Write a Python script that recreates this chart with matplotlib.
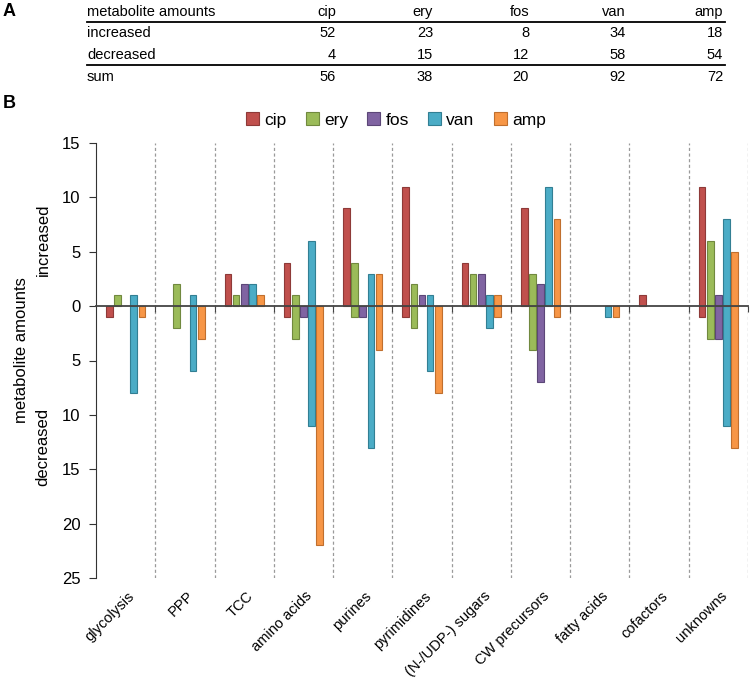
import numpy as np
import matplotlib
matplotlib.use("Agg")
import matplotlib.pyplot as plt
from matplotlib.lines import Line2D
from matplotlib.transforms import blended_transform_factory

plt.rcParams["font.family"] = ["Liberation Sans", "DejaVu Sans"]

# =========================
# DATA
# =========================
categories = ["glycolysis", "PPP", "TCC", "amino acids", "purines", "pyrimidines",
              "(N-/UDP-) sugars", "CW precursors", "fatty acids", "cofactors", "unknowns"]
series = ["cip", "ery", "fos", "van", "amp"]

increased = {
    "cip": [0, 0, 3, 4, 9, 11, 4, 9, 0, 1, 11],
    "ery": [1, 2, 1, 1, 4, 2, 3, 3, 0, 0, 6],
    "fos": [0, 0, 2, 0, 0, 1, 3, 2, 0, 0, 1],
    "van": [1, 1, 2, 6, 3, 1, 1, 11, 0, 0, 8],
    "amp": [0, 0, 1, 0, 3, 0, 1, 8, 0, 0, 5],
}
decreased = {
    "cip": [1, 0, 0, 1, 0, 1, 0, 0, 0, 0, 1],
    "ery": [0, 2, 0, 3, 1, 2, 0, 4, 0, 0, 3],
    "fos": [0, 0, 0, 1, 1, 0, 0, 7, 0, 0, 3],
    "van": [8, 6, 0, 11, 13, 6, 2, 0, 1, 0, 11],
    "amp": [1, 3, 0, 22, 4, 8, 1, 1, 1, 0, 13],
}

# summary table (panel A)
table_header = "metabolite amounts"
table_rows = ["increased", "decreased", "sum"]
table_increased = [52, 23, 8, 34, 18]
table_decreased = [4, 15, 12, 58, 54]
table_sum = [56, 38, 20, 92, 72]

colors = {"cip": "#C0504D", "ery": "#9BBB59", "fos": "#8064A2",
          "van": "#4BACC6", "amp": "#F79646"}
edges = {"cip": "#8E3A38", "ery": "#71893F", "fos": "#5C4778",
         "van": "#327F93", "amp": "#C06F2E"}

W, H = 750, 680


def fx(px):
    return px / W


def fy(py):
    return 1 - py / H


fig = plt.figure(figsize=(7.5, 6.8), dpi=100)

# =========================
# PANEL A - TABLE
# =========================
fig.text(fx(3), fy(12), "A", fontsize=13, fontweight="bold", va="center")
fig.text(fx(3), fy(103), "B", fontsize=13, fontweight="bold", va="center")

col_right = [336, 433, 529, 626, 723]
row_y = [33, 55, 77]
fs_tab = 10.5

fig.text(fx(87), fy(12), table_header, fontsize=fs_tab, va="center")
for name, xr in zip(series, col_right):
    fig.text(fx(xr), fy(12), name, fontsize=fs_tab, va="center", ha="right")

for label, vals, yy in zip(table_rows, [table_increased, table_decreased, table_sum], row_y):
    fig.text(fx(87), fy(yy), label, fontsize=fs_tab, va="center")
    for v, xr in zip(vals, col_right):
        fig.text(fx(xr), fy(yy), str(v), fontsize=fs_tab, va="center", ha="right")

for yy in [22, 65]:
    fig.add_artist(Line2D([fx(87), fx(725)], [fy(yy), fy(yy)], color="black", lw=1.3))

# =========================
# PANEL B - BARS
# =========================
ax = fig.add_axes([fx(96), fy(578), fx(748) - fx(96), fy(143) - fy(578)])

x = np.arange(len(categories))
step = 0.138
width = 0.112

for i, s in enumerate(series):
    off = (i - 2) * step
    inc = np.array(increased[s])
    dec = np.array(decreased[s])
    m = inc > 0
    ax.bar(x[m] + off, inc[m], width=width, color=colors[s], edgecolor=edges[s],
           linewidth=0.8, zorder=3, label=s)
    m = dec > 0
    ax.bar(x[m] + off, -dec[m], width=width, color=colors[s], edgecolor=edges[s],
           linewidth=0.8, zorder=3)

ax.set_xlim(-0.5, len(categories) - 0.5)
ax.set_ylim(-25, 15)

for b in np.arange(0.5, len(categories), 1.0):
    ax.axvline(b, color="#9a9a9a", lw=0.9, ls=(0, (2.5, 2)), zorder=1)

ax.spines["top"].set_visible(False)
ax.spines["right"].set_visible(False)
ax.spines["bottom"].set_position(("data", 0))
ax.spines["bottom"].set_color("#444444")
ax.spines["bottom"].set_linewidth(1.3)
ax.spines["bottom"].set_zorder(4)
ax.spines["left"].set_color("#333333")

ax.set_xticks(np.arange(0.5, len(categories) - 0.4, 1.0))
ax.set_xticklabels([])
ax.tick_params(axis="x", length=4, color="#444444", direction="out")

yt = np.arange(-25, 16, 5)
ax.set_yticks(yt)
ax.set_yticklabels([str(abs(v)) for v in yt], fontsize=12)
ax.tick_params(axis="y", length=5, color="#333333", pad=6)

trans = blended_transform_factory(ax.transData, ax.transAxes)
for xi, cat in zip(x, categories):
    ax.text(xi + 0.03, -0.025, cat, transform=trans, rotation=45, ha="right", va="top",
            rotation_mode="anchor", fontsize=10.5)

fig.text(fx(22), fy(350), "metabolite amounts", rotation=90, fontsize=12,
         ha="center", va="center")
fig.text(fx(43), fy(240), "increased", rotation=90, fontsize=12,
         ha="center", va="center")
fig.text(fx(43), fy(447), "decreased", rotation=90, fontsize=12,
         ha="center", va="center")

fig.legend(loc="center", bbox_to_anchor=(fx(396), fy(120)), ncol=5, frameon=False,
           fontsize=12.5, handlelength=0.75, handleheight=0.75, handletextpad=0.3,
           columnspacing=1.1, borderaxespad=0)

fig.savefig("out.png", dpi=100)
